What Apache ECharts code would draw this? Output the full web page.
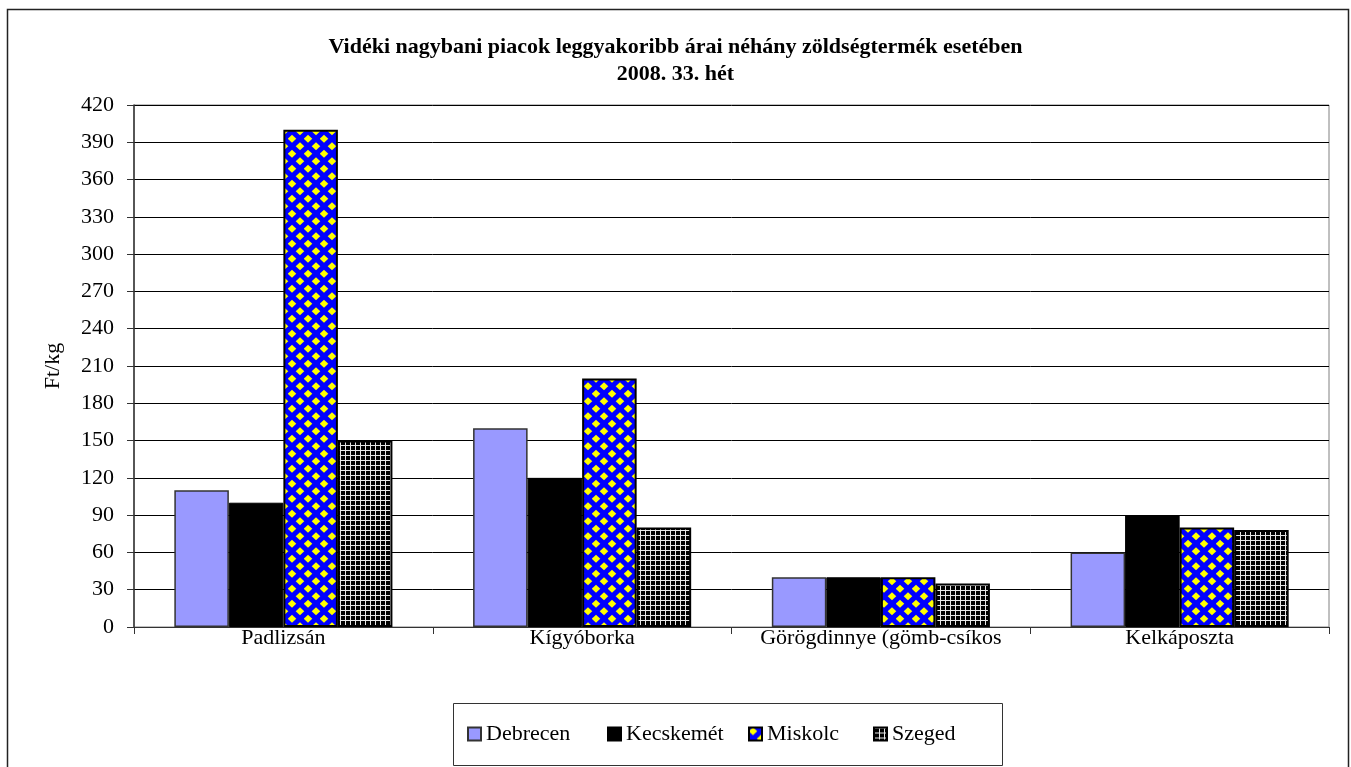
<!DOCTYPE html>
<html>
<head>
<meta charset="utf-8">
<script src="https://cdn.jsdelivr.net/npm/echarts@6/dist/echarts.min.js"></script>
<style>
  html, body { margin: 0; padding: 0; background: #fff; }
  #chart { width: 1351px; height: 767px; }
</style>
</head>
<body>
<div id="chart"></div>
<script>
// adatok
const categories = ['Padlizsán', 'Kígyóborka', 'Görögdinnye (gömb-csíkos', 'Kelkáposzta']
const seriesNames = ['Debrecen', 'Kecskemét', 'Miskolc', 'Szeged']
const debrecen = [110, 160, 40, 60]
const kecskemet = [100, 120, 40, 90]
const miskolc = [400, 200, 40, 80]
const szeged = [150, 80, 35, 78]
const yTicks = { min: 0, max: 420, interval: 30 }

const FONT = 'Liberation Serif'
// jelmagyarázat elemek bal széle
const legendLeft = [467, 607, 748, 873]

// kék alapon sárga rombusz minta
function diamondPattern () {
  const c = document.createElement('canvas')
  c.width = 16
  c.height = 15
  const ctx = c.getContext('2d')
  ctx.fillStyle = '#0000ff'
  ctx.fillRect(0, 0, 16, 15)
  ctx.fillStyle = '#ffff00'
  const pts = [[4, 3.75], [12, 11.25], [12, -3.75], [-4, 11.25], [20, 11.25], [4, 18.75]]
  pts.forEach(function (p) {
    ctx.beginPath()
    ctx.moveTo(p[0], p[1] - 4.0)
    ctx.lineTo(p[0] + 4.3, p[1])
    ctx.lineTo(p[0], p[1] + 4.0)
    ctx.lineTo(p[0] - 4.3, p[1])
    ctx.closePath()
    ctx.fill()
  })
  return c
}

// fekete alapon fehér rács
function gridPattern () {
  const c = document.createElement('canvas')
  c.width = 5
  c.height = 5
  const ctx = c.getContext('2d')
  ctx.fillStyle = '#000'
  ctx.fillRect(0, 0, 5, 5)
  ctx.fillStyle = '#e8e8e8'
  ctx.fillRect(0, 0, 5, 1)
  ctx.fillRect(0, 0, 1, 5)
  return c
}

const chart = echarts.init(document.getElementById('chart'))
chart.setOption({
  animation: false,
  backgroundColor: '#fff',
  title: {
    text: 'Vidéki nagybani piacok leggyakoribb árai néhány zöldségtermék esetében\n2008. 33. hét',
    left: 'center',
    top: 29,
    textStyle: { fontFamily: FONT, fontWeight: 'bold', fontSize: 22, lineHeight: 27, color: '#000' }
  },
  graphic: [
    {
      type: 'rect',
      shape: { x: 7.5, y: 9.5, width: 1341, height: 800 },
      style: { fill: 'none', stroke: '#222', lineWidth: 1.5 },
      silent: true
    },
    {
      // jelmagyarázat kerete
      type: 'rect',
      shape: { x: 453.5, y: 703.5, width: 549, height: 62 },
      style: { fill: 'none', stroke: '#333', lineWidth: 1 },
      silent: true
    }
  ],
  legend: seriesNames.map(function (name, i) {
    return {
      left: legendLeft[i],
      top: 723,
      padding: 0,
      itemWidth: 13,
      itemHeight: 13,
      icon: 'rect',
      textStyle: { fontFamily: FONT, fontSize: 22, color: '#000' },
      data: [name]
    }
  }),
  grid: {
    left: 134,
    right: 22,
    top: 105,
    bottom: 140,
    show: true,
    borderColor: '#808080',
    borderWidth: 1
  },
  xAxis: {
    type: 'category',
    data: categories,
    axisLine: { lineStyle: { color: '#333', width: 1 } },
    axisTick: { show: true, length: 7, lineStyle: { color: '#333' } },
    axisLabel: { fontFamily: FONT, fontSize: 22, color: '#000', margin: 0, interval: 0 }
  },
  yAxis: {
    type: 'value',
    min: yTicks.min,
    max: yTicks.max,
    interval: yTicks.interval,
    name: 'Ft/kg',
    nameLocation: 'middle',
    nameRotate: 90,
    nameGap: 70,
    nameTextStyle: { fontFamily: FONT, fontSize: 22, color: '#000' },
    axisLine: { show: true, lineStyle: { color: '#333', width: 1.5 } },
    axisTick: { show: true, length: 7, lineStyle: { color: '#333' } },
    axisLabel: { fontFamily: FONT, fontSize: 22, color: '#000', margin: 20 },
    splitLine: { lineStyle: { color: '#000', width: 1 } }
  },
  series: [
    {
      name: seriesNames[0], type: 'bar', data: debrecen,
      barGap: 0, barCategoryGap: '27%',
      itemStyle: { color: '#9999ff', borderColor: '#333', borderWidth: 1.5 }
    },
    {
      name: seriesNames[1], type: 'bar', data: kecskemet,
      itemStyle: { color: '#000', borderColor: '#000', borderWidth: 1 }
    },
    {
      name: seriesNames[2], type: 'bar', data: miskolc,
      itemStyle: { color: { image: diamondPattern(), repeat: 'repeat' }, borderColor: '#000', borderWidth: 2 }
    },
    {
      name: seriesNames[3], type: 'bar', data: szeged,
      itemStyle: { color: { image: gridPattern(), repeat: 'repeat' }, borderColor: '#000', borderWidth: 2 }
    }
  ]
})
</script>
</body>
</html>
